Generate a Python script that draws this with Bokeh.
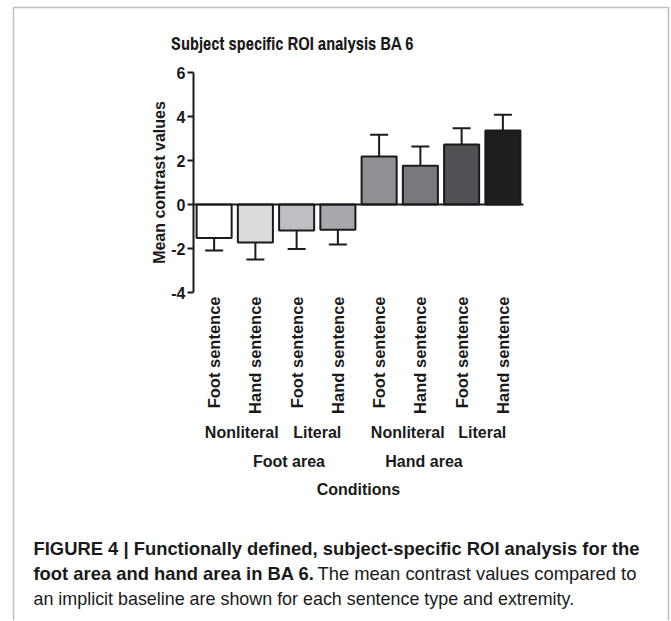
import math
from bokeh.plotting import figure
from bokeh.models import Range1d, FixedTicker, Label, BoxAnnotation, LinearAxis, ColumnDataSource
from bokeh.embed import file_html
from bokeh.resources import INLINE

# ---- data ----
sentences = ["Foot sentence", "Hand sentence"] * 4
types = ["Nonliteral", "Nonliteral", "Literal", "Literal"] * 2
areas = ["Foot area"] * 4 + ["Hand area"] * 4
means = [-1.52, -1.73, -1.18, -1.15, 2.18, 1.76, 2.73, 3.36]
sems = [0.57, 0.77, 0.84, 0.67, 0.99, 0.88, 0.74, 0.72]
bar_colors = ["#ffffff", "#d9dbdd", "#bdbfc2", "#a6a8ac", "#8e9093", "#77797c", "#505256", "#1e1e20"]
y_ticks = [-4, -2, 0, 2, 4, 6]
y_tick_labels = ["-4", "-2", "0", "2", "4", "6"]
title_text = "Subject specific ROI analysis BA 6"
caption_bold_1 = "FIGURE 4 | Functionally defined, subject-specific ROI analysis for the"
caption_bold_2 = "foot area and hand area in BA 6."
caption_reg_2 = "The mean contrast values compared to"
caption_reg_3 = "an implicit baseline are shown for each sentence type and extremity."

# ---- layout (pixels, from the canvas' top-left) ----
W, H = 670, 620
FL, FT, FR, FB = 193, 72, 523, 292          # chart area edges
FONT = "Liberation Sans"
TITLEFONT = "Archivo Narrow"
INK = "#1a1a1a"

x = list(range(len(means)))
XR = (-0.5, len(means) - 0.5)
YR = (min(y_ticks), max(y_ticks))
# the plot frame fills the whole canvas; the data ranges are extended so that the chart
# occupies the pixel box (FL..FR, FT..FB)
kx = (XR[1] - XR[0]) / (FR - FL)
ky = (YR[1] - YR[0]) / (FB - FT)
x_range = Range1d(XR[0] - FL * kx, XR[1] + (W - FR) * kx)
y_range = Range1d(YR[0] - (H - FB) * ky, YR[1] + FT * ky)

err_end = [m + (s if m >= 0 else -s) for m, s in zip(means, sems)]
src = ColumnDataSource(dict(x=x, mean=means, err=err_end, color=bar_colors))

p = figure(width=W, height=H, output_backend="svg", toolbar_location=None,
           x_range=x_range, y_range=y_range,
           min_border_left=0, min_border_right=0, min_border_top=0, min_border_bottom=0)
p.grid.visible = False
p.outline_line_color = None
p.background_fill_color = "white"
p.border_fill_color = "white"

p.segment(x0="x", y0="mean", x1="x", y1="err", source=src, line_color=INK, line_width=2)
p.scatter(x="x", y="err", marker="dash", size=18, line_color=INK, line_width=2, source=src)
p.vbar(x="x", bottom=0, top="mean", width=0.85, fill_color="color",
       line_color=INK, line_width=2, source=src)

# y axis
ya = p.yaxis[0]
ya.fixed_location = XR[0]
ya.bounds = YR
ya.ticker = FixedTicker(ticks=y_ticks)
ya.major_label_overrides = {t: s for t, s in zip(y_ticks, y_tick_labels)}
ya.axis_line_width = 2
ya.axis_line_color = INK
ya.major_tick_line_width = 2
ya.major_tick_line_color = INK
ya.major_tick_out = 6
ya.major_tick_in = 0
ya.minor_tick_line_color = None
ya.major_label_standoff = 2
ya.major_label_text_font = FONT
ya.major_label_text_font_style = "bold"
ya.major_label_text_font_size = "16px"
ya.major_label_text_color = INK
ya.axis_label = "Mean contrast values"
ya.axis_label_text_font = FONT
ya.axis_label_text_font_style = "bold"
ya.axis_label_text_font_size = "16px"
ya.axis_label_text_color = INK
ya.axis_label_standoff = 0

# x axis with the sentence labels, hanging below the chart
xa = p.xaxis[0]
xa.fixed_location = YR[0]
xa.bounds = XR
xa.ticker = FixedTicker(ticks=x)
xa.major_label_overrides = {i: s for i, s in zip(x, sentences)}
xa.axis_line_color = None
xa.major_tick_line_color = None
xa.minor_tick_line_color = None
xa.major_tick_out = 0
xa.major_tick_in = 0
xa.major_label_orientation = math.pi / 2
xa.major_label_standoff = 4
xa.major_label_text_font = FONT
xa.major_label_text_font_style = "bold"
xa.major_label_text_font_size = "16.5px"
xa.major_label_text_color = INK
xa.axis_label = "Conditions"
xa.axis_label_text_font = FONT
xa.axis_label_text_font_style = "bold"
xa.axis_label_text_font_size = "16px"
xa.axis_label_text_color = INK
xa.axis_label_standoff = 64

# baseline at zero
zero_axis = LinearAxis(fixed_location=0, bounds=XR, ticker=FixedTicker(ticks=[]),
                       axis_line_color=INK, axis_line_width=2,
                       major_tick_line_color=None, minor_tick_line_color=None)
p.add_layout(zero_axis, "below")


def runs(keys):
    out = []
    for i, k in enumerate(keys):
        if out and out[-1][0] == k:
            out[-1][1].append(i)
        else:
            out.append([k, [i]])
    return out


lab = dict(text_align="center", text_baseline="middle", text_font=FONT, text_font_style="bold",
           text_font_size="16px", text_color=INK, y_units="screen")
type_nudge = [7, 0, 8, 0]
area_nudge = [13, -17]
for (k, idx), dx in zip(runs(list(zip(areas, types))), type_nudge):
    p.add_layout(Label(x=sum(x[i] for i in idx) / len(idx), y=H - 432, x_offset=dx, text=k[1], **lab))
for (k, idx), dx in zip(runs(areas), area_nudge):
    p.add_layout(Label(x=sum(x[i] for i in idx) / len(idx), y=H - 461, x_offset=dx, text=k, **lab))


def at(X, Y):
    return dict(x=X, y=H - Y, x_units="screen", y_units="screen")


# title
p.add_layout(Label(**at(292, 43), text=title_text, text_align="center", text_baseline="middle",
                   text_font=TITLEFONT, text_font_style="bold", text_font_size="18px", text_color=INK))

# caption
cap = dict(text_baseline="middle", text_color=INK, text_font=FONT)
p.add_layout(Label(**at(33, 548), text=caption_bold_1, text_font_style="bold", text_font_size="18.4px", **cap))
p.add_layout(Label(**at(33, 573), text=caption_bold_2, text_font_style="bold", text_font_size="18.4px", **cap))
p.add_layout(Label(**at(317, 573), text=caption_reg_2, text_font_size="18.4px", **cap))
p.add_layout(Label(**at(33, 598), text=caption_reg_3, text_font_size="17.9px", **cap))

# page border (left, top, right)
p.add_layout(BoxAnnotation(left=13, right=668, top=H - 7, bottom=-20,
                           left_units="screen", right_units="screen", top_units="screen",
                           bottom_units="screen", fill_alpha=0, line_color="#2a2a2a", line_width=1.5))

open("out.html", "w").write(file_html(p, INLINE))
